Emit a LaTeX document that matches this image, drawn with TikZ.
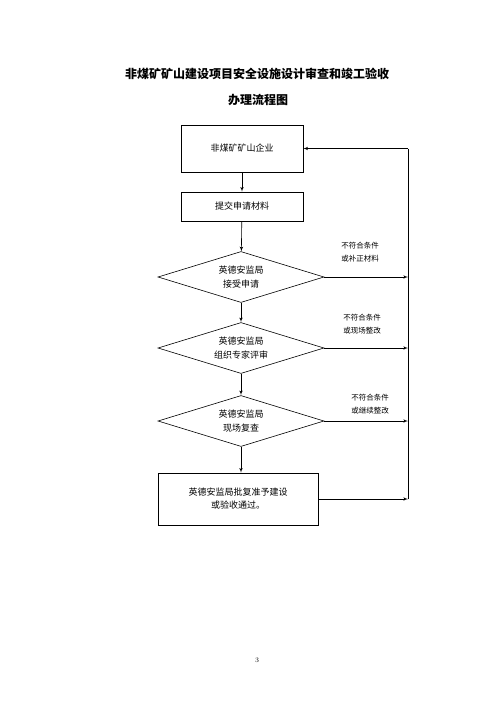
\documentclass[tikz,border=0pt]{standalone}
\usepackage{fontspec}
\usepackage{tikz}
\newfontfamily\cjk{Noto Sans CJK SC}
\usetikzlibrary{arrows}
\usetikzlibrary{shapes.geometric}
\usetikzlibrary{positioning}
\tikzset{stepbox/.style = {draw, rectangle, inner sep = 0, align = center,
                           font = \cjk\fontsize{9}{13}\selectfont}}
\tikzset{check/.style = {draw, diamond, aspect = 3.25, inner sep = 0,
                         minimum width = 166pt, minimum height = 51pt, align = center,
                         font = \cjk\fontsize{9}{14}\selectfont}}
\tikzset{note/.style = {align = center, font = \cjk\fontsize{7.5}{13}\selectfont}}
\tikzset{flow/.style = {-latex', line width = 0.6pt}}

\begin{document}
\begin{tikzpicture}[x=1pt, y=-1pt, line width = 0.6pt]
    \useasboundingbox (0, 0) rectangle (500, 707);
    \node (title1) at (257, 74) {\cjk\bfseries\fontsize{12}{14}\selectfont 非煤矿矿山建设项目安全设施设计审查和竣工验收};
    \node (title2) at (258, 100) {\cjk\bfseries\fontsize{12}{14}\selectfont 办理流程图};

    \node [stepbox, minimum width = 122pt, minimum height = 47pt] (ent) at (242, 148.5) {非煤矿矿山企业};
    \node [stepbox, minimum width = 122pt, minimum height = 29pt] (apply) at (242, 206.5) {提交申请材料};
    \node [check] (accept) at (241, 277) {英德安监局\\接受申请};
    \node [check] (expert) at (241, 348) {英德安监局\\组织专家评审};
    \node [check] (recheck) at (241, 421) {英德安监局\\现场复查};
    \node [stepbox, minimum width = 160pt, minimum height = 52pt] (pass) at (238, 499) {英德安监局批复准予建设\\或验收通过。};

    \coordinate (rt) at (408, 0);

    \draw [flow] (ent) -- (apply);
    \draw [flow] (apply) -- (accept);
    \draw [flow] (accept) -- (expert);
    \draw [flow] (expert) -- (recheck);
    \draw [flow] (recheck) -- (recheck |- pass.north);

    \draw [flow] (accept.east) -- (accept.east -| rt);
    \draw [flow] (expert.east) -- (expert.east -| rt);
    \draw [flow] (recheck.east) -- (recheck.east -| rt);
    \draw [flow] (pass.east) -- (pass.east -| rt);
    \draw (pass.east -| rt) -- (ent.east -| rt);
    \draw [flow] (ent.east -| rt) -- (ent.east);

    \node [note] (why1) at (360, 252) {不符合条件\\或补正材料};
    \node [note] (why2) at (362, 324.5) {不符合条件\\或现场整改};
    \node [note, fill = white, inner sep = 7pt] (why3) at (370, 404.5) {不符合条件\\或继续整改};

    \node (page) at (257, 660) {\fontsize{7}{8}\selectfont 3};
\end{tikzpicture}
\end{document}
